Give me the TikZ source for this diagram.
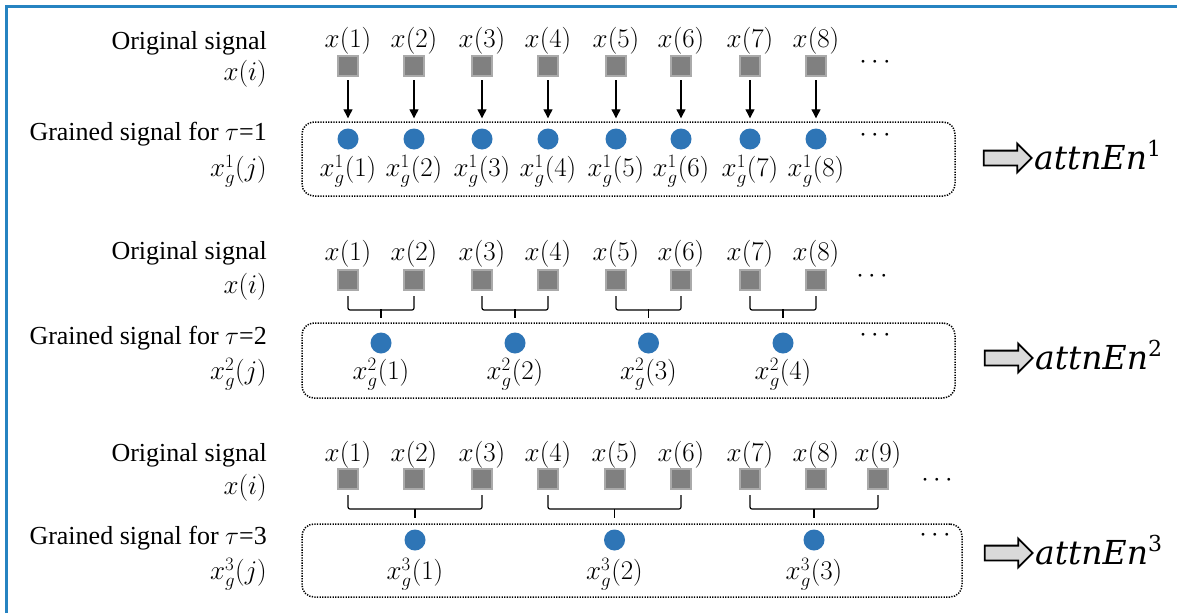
\RequirePackage{fix-cm}
\documentclass[tikz,border=0pt]{standalone}
\usepackage{fontspec}
\setmainfont{Liberation Serif}
\newfontfamily\dvs{DejaVu Serif}
\usetikzlibrary{shapes.arrows,arrows.meta,calc}
\definecolor{frameblue}{RGB}{38,131,193}
\definecolor{sqfill}{RGB}{128,128,128}
\definecolor{sqedge}{RGB}{170,170,170}
\definecolor{dotblue}{RGB}{46,117,182}
\definecolor{arrfill}{RGB}{217,217,217}
\newcommand{\attn}[1]{{\dvs\itshape attnEn}\raisebox{0.42em}{\dvs\fontsize{22}{24}\selectfont #1}}
\begin{document}
\begin{tikzpicture}[x=1pt,y=-1pt,
  txt/.style={font=\rmfamily\fontsize{26}{30}\selectfont, inner sep=0pt},
  mth/.style={font=\fontsize{27}{31}\selectfont, inner sep=0pt},
  big/.style={font=\fontsize{33}{38}\selectfont, inner sep=0pt},
  sq/.style={rectangle, fill=sqfill, draw=sqedge, line width=2pt, minimum size=20pt, inner sep=0pt},
  dotn/.style={circle, fill=dotblue, minimum size=21pt, inner sep=0pt},
  gbox/.style={draw, line width=1.5pt, dash pattern=on 1.3pt off 1.3pt, rounded corners=12pt, inner sep=0pt},
  brc/.style={line width=1.2pt, rounded corners=2pt},
  arr/.style={line width=1.2pt, -{Triangle[length=9pt,width=9pt]}},
  bigarr/.style={single arrow, draw, fill=arrfill, line width=1.8pt, minimum height=48pt, minimum width=0pt, text height=0pt, text depth=0pt, text width=0pt, inner xsep=0pt, inner ysep=6.5pt, single arrow head extend=7pt, single arrow tip angle=90}
]
\useasboundingbox (0,0) rectangle (1177,613);
\fill[white] (0,0) rectangle (1177,613);
\draw[frameblue, line width=3pt] (6,613) -- (6,6) -- (1177,6);

% ---------- Row 1 (tau = 1)
\node[txt, anchor=east] (os1) at (267,43) {Original signal};
\node[mth, anchor=east] (xi1) at (267,74) {$x(i)$};
\node[txt, anchor=east] (gs1) at (267,134) {Grained signal for $\tau$=1};
\node[mth, anchor=east] (xg1) at (267,171) {$x_g^1(j)$};
\node[gbox, minimum width=653pt, minimum height=74pt] (box1) at (628.5,159) {};
\foreach \i/\x in {1/348,2/414,3/482,4/548,5/616,6/681,7/750,8/816} {
  \node[sq] (r1s\i) at (\x,66) {};
  \node[mth] (r1l\i) at (\x,41) {$x(\i)$};
  \node[dotn] (r1c\i) at (\x,139) {};
  \node[mth] (r1g\i) at (\x,171) {$x_g^1(\i)$};
  \draw[arr, shorten <=3pt, shorten >=10pt] (r1s\i) -- (r1c\i);
}
\node[mth] (d1a) at (875,62) {$\cdots$};
\node[mth] (d1b) at (875,135) {$\cdots$};
\node[bigarr] (ar1) at (1004,158) {};
\node[big, anchor=west] (at1) at (1034,155) {\attn{1}};

% ---------- Row 2 (tau = 2)
\node[txt, anchor=east] (os2) at (267,253) {Original signal};
\node[mth, anchor=east] (xi2) at (267,287) {$x(i)$};
\node[txt, anchor=east] (gs2) at (267,338) {Grained signal for $\tau$=2};
\node[mth, anchor=east] (xg2) at (267,374) {$x_g^2(j)$};
\node[gbox, minimum width=653pt, minimum height=75pt] (box2) at (628.5,360.5) {};
\foreach \i/\x in {1/348,2/414,3/482,4/548,5/616,6/681,7/750,8/816} {
  \node[sq] (r2s\i) at (\x,280) {};
  \node[mth] (r2l\i) at (\x,254) {$x(\i)$};
}
\foreach \j/\a/\b/\x in {1/1/2/381,2/3/4/515,3/5/6/648.5,4/7/8/783} {
  \node[dotn] (r2c\j) at (\x,343) {};
  \node[mth] (r2g\j) at (\x,374) {$x_g^2(\j)$};
  \draw[brc] ([yshift=-5pt]r2s\a.south) -- ([yshift=-19pt]r2s\a.south) -- ([yshift=-19pt]r2s\b.south) -- ([yshift=-5pt]r2s\b.south);
  \draw[brc] ([yshift=23pt]r2c\j.north) -- ([yshift=14pt]r2c\j.north);
}
\node[mth] (d2a) at (872,276) {$\cdots$};
\node[mth] (d2b) at (875,335) {$\cdots$};
\node[bigarr] (ar2) at (1005,358) {};
\node[big, anchor=west] (at2) at (1035,355) {\attn{2}};

% ---------- Row 3 (tau = 3)
\node[txt, anchor=east] (os3) at (267,455) {Original signal};
\node[mth, anchor=east] (xi3) at (267,488) {$x(i)$};
\node[txt, anchor=east] (gs3) at (267,538) {Grained signal for $\tau$=3};
\node[mth, anchor=east] (xg3) at (267,574) {$x_g^3(j)$};
\node[gbox, minimum width=660pt, minimum height=73pt] (box3) at (632,560.5) {};
\foreach \i/\x in {1/348,2/414,3/482,4/548,5/615,6/681,7/750,8/816,9/878} {
  \node[sq] (r3s\i) at (\x,479) {};
  \node[mth] (r3l\i) at (\x,455) {$x(\i)$};
}
\foreach \j/\a/\b/\x in {1/1/3/415,2/4/6/614.5,3/7/9/814} {
  \node[dotn] (r3c\j) at (\x,540) {};
  \node[mth] (r3g\j) at (\x,574) {$x_g^3(\j)$};
  \draw[brc] ([yshift=-5pt]r3s\a.south) -- ([yshift=-19pt]r3s\a.south) -- ([yshift=-19pt]r3s\b.south) -- ([yshift=-5pt]r3s\b.south);
  \draw[brc] ([yshift=20.5pt]r3c\j.north) -- ([yshift=11.5pt]r3c\j.north);
}
\node[mth] (d3a) at (937,480) {$\cdots$};
\node[mth] (d3b) at (935,535) {$\cdots$};
\node[bigarr] (ar3) at (1005,553) {};
\node[big, anchor=west] (at3) at (1035,550) {\attn{3}};
\end{tikzpicture}
\end{document}
